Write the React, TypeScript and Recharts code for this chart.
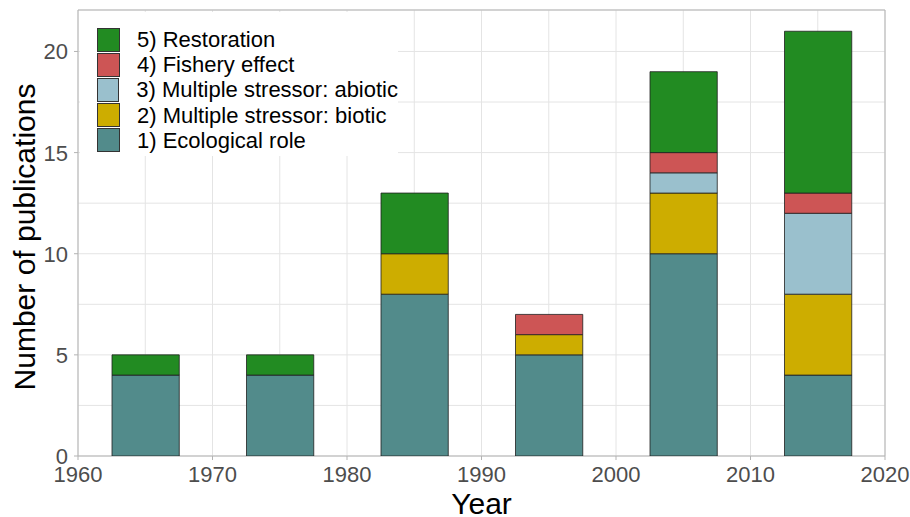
import React from "react";
import {
  BarChart,
  Bar,
  XAxis,
  YAxis,
  CartesianGrid,
  Legend,
  ReferenceArea,
  Label,
} from "recharts";

// ---- Data ----
const years = [1965, 1975, 1985, 1995, 2005, 2015];
const ecologicalRole = [4, 4, 8, 5, 10, 4];
const stressorBiotic = [0, 0, 2, 1, 3, 4];
const stressorAbiotic = [0, 0, 0, 0, 1, 4];
const fisheryEffect = [0, 0, 0, 1, 1, 1];
const restoration = [1, 1, 3, 0, 4, 8];

const seriesKeys = ["eco", "biotic", "abiotic", "fishery", "restoration"];
const seriesNames = [
  "1) Ecological role",
  "2) Multiple stressor: biotic",
  "3) Multiple stressor: abiotic",
  "4) Fishery effect",
  "5) Restoration",
];
const seriesColors = ["#528B8B", "#CDAD00", "#9AC0CD", "#CD5555", "#228B22"];

const xMajorTicks = [1960, 1970, 1980, 1990, 2000, 2010, 2020];
const xMinorTicks = [1965, 1975, 1985, 1995, 2005, 2015];
const yMajorTicks = [0, 5, 10, 15, 20];
const yMinorTicks = [2.5, 7.5, 12.5, 17.5];

const xDomain: [number, number] = [1960, 2020];
const yDomain: [number, number] = [0, 22.05];
const binWidthYears = 5;

const data = years.map((year, i) => ({
  year,
  eco: ecologicalRole[i],
  biotic: stressorBiotic[i],
  abiotic: stressorAbiotic[i],
  fishery: fisheryEffect[i],
  restoration: restoration[i],
}));

// ---- Layout / style ----
const W = 910;
const H = 517;
const MARGIN = { top: 10, right: 25, bottom: 0, left: 0 };
const Y_AXIS_W = 78;
const X_AXIS_H = 61;
const PLOT_W = W - MARGIN.left - MARGIN.right - Y_AXIS_W;
const BAR_SIZE = (PLOT_W * binWidthYears) / (xDomain[1] - xDomain[0]);
const FONT = "'Liberation Sans', Arial, Helvetica, sans-serif";
const GRID = "#E4E4E4";
const BORDER = "#B3B3B3";
const TICK_TEXT = "#4D4D4D";

const xTicksAll = [...xMajorTicks, ...xMinorTicks].sort((a, b) => a - b);
const yTicksAll = [...yMajorTicks, ...yMinorTicks].sort((a, b) => a - b);

const XTick = (props: any) => {
  const { x, y, payload } = props;
  if (!xMajorTicks.includes(payload.value)) return <g />;
  return (
    <g>
      <line x1={x} x2={x} y1={y - 4} y2={y} stroke={BORDER} strokeWidth={1} />
      <text
        x={x}
        y={y + 22}
        textAnchor="middle"
        fontSize={22}
        fontFamily={FONT}
        fill={TICK_TEXT}
      >
        {payload.value}
      </text>
    </g>
  );
};

const YTick = (props: any) => {
  const { x, y, payload } = props;
  if (!yMajorTicks.includes(payload.value)) return <g />;
  return (
    <g>
      <line x1={x} x2={x + 4} y1={y} y2={y} stroke={BORDER} strokeWidth={1} />
      <text
        x={x - 6}
        y={y + 8}
        textAnchor="end"
        fontSize={22}
        fontFamily={FONT}
        fill={TICK_TEXT}
      >
        {payload.value}
      </text>
    </g>
  );
};

const LegendBox = () => {
  const order = [4, 3, 2, 1, 0];
  return (
    <div
      style={{
        background: "#FFFFFF",
        width: 318,
        height: 144,
        paddingTop: 15,
        paddingLeft: 17,
        boxSizing: "border-box",
        fontFamily: FONT,
      }}
    >
      {order.map((i) => (
        <div
          key={seriesKeys[i]}
          style={{ display: "flex", alignItems: "center", height: 25.2 }}
        >
          <div
            style={{
              width: 23,
              height: 24,
              background: seriesColors[i],
              border: "1px solid #333",
              boxSizing: "border-box",
            }}
          />
          <span
            style={{
              marginLeft: 17,
              fontSize: 22,
              color: "#000",
              lineHeight: "25px",
              whiteSpace: "nowrap",
            }}
          >
            {seriesNames[i]}
          </span>
        </div>
      ))}
    </div>
  );
};

export default function App() {
  return (
    <div style={{ position: "absolute", left: 0, top: 0, width: W, height: H, background: "#fff" }}>
      <BarChart
        width={W}
        height={H}
        data={data}
        margin={MARGIN}
        barSize={BAR_SIZE}
        barGap={0}
        barCategoryGap={0}
      >
        <CartesianGrid stroke={GRID} strokeWidth={1} />
        <XAxis
          dataKey="year"
          type="number"
          domain={xDomain}
          allowDataOverflow
          ticks={xTicksAll}
          interval={0}
          tick={<XTick />}
          tickLine={false}
          tickSize={4}
          tickMargin={0}
          axisLine={false}
          height={X_AXIS_H}
          padding={{ left: 0, right: 0 }}
        >
          <Label
            content={() => (
              <text
                x={481.5}
                y={514}
                textAnchor="middle"
                fontSize={30}
                fontFamily={FONT}
                fill="#000"
              >
                Year
              </text>
            )}
          />
        </XAxis>
        <YAxis
          type="number"
          domain={yDomain}
          allowDataOverflow
          ticks={yTicksAll}
          interval={0}
          tick={<YTick />}
          tickLine={false}
          tickSize={4}
          tickMargin={0}
          axisLine={false}
          width={Y_AXIS_W}
        >
          <Label
            content={() => (
              <text
                x={35}
                y={237}
                transform="rotate(-90 35 237)"
                textAnchor="middle"
                fontSize={30}
                fontFamily={FONT}
                fill="#000"
              >
                Number of publications
              </text>
            )}
          />
        </YAxis>
        {seriesKeys.map((k, i) => (
          <Bar
            key={k}
            dataKey={k}
            name={seriesNames[i]}
            stackId="a"
            fill={seriesColors[i]}
            stroke="#1F1F1F"
            strokeWidth={0.8}
            isAnimationActive={false}
          />
        ))}
        <ReferenceArea
          x1={xDomain[0]}
          x2={xDomain[1]}
          y1={yDomain[0]}
          y2={yDomain[1]}
          fill="none"
          stroke={BORDER}
          strokeWidth={1}
          ifOverflow="visible"
        />
        <Legend
          layout="vertical"
          align="center"
          verticalAlign="middle"
          content={() => <LegendBox />}
          wrapperStyle={{ left: 80, top: 12, width: 318, height: 144 }}
        />
      </BarChart>
    </div>
  );
}
